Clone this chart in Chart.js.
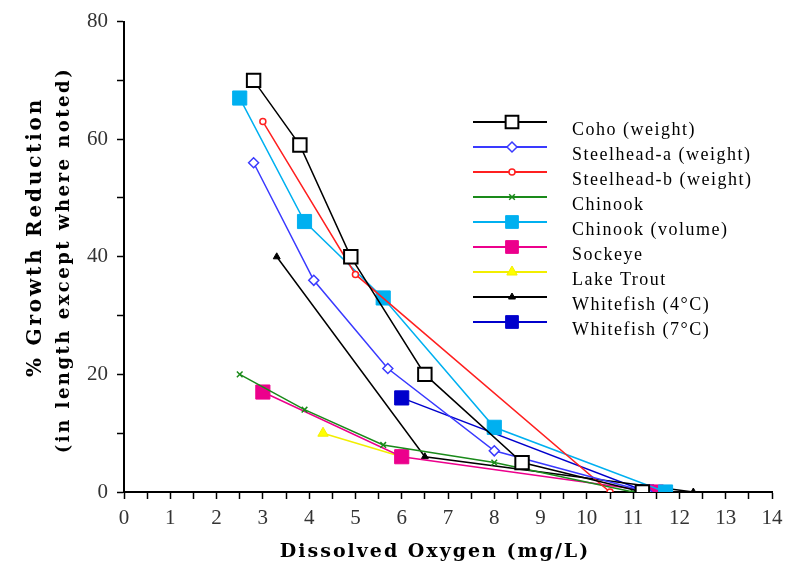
<!DOCTYPE html>
<html>
<head>
<meta charset="utf-8">
<script src="https://cdn.jsdelivr.net/npm/chart.js@4.4.0/dist/chart.umd.min.js"></script>
<style>
  html, body { margin: 0; padding: 0; background: #fff; }
  #wrap { width: 792px; height: 569px; }
</style>
</head>
<body>
<div id="wrap"><canvas id="chart" width="792" height="569"></canvas></div>
<script>
// Series (x = dissolved oxygen mg/L, y = % growth reduction)
const cohoX = [2.8, 3.8, 4.9, 6.5, 8.6, 11.2];
const cohoY = [70, 59, 40, 20, 5, 0];
const steelheadAX = [2.8, 4.1, 5.7, 8.0, 11.3];
const steelheadAY = [56, 36, 21, 7, 0];
const steelheadBX = [3.0, 5.0, 10.5];
const steelheadBY = [63, 37, 0];
const chinookX = [2.5, 3.9, 5.6, 8.0, 11.0];
const chinookY = [20, 14, 8, 5, 0];
const chinookVolX = [2.5, 3.9, 5.6, 8.0, 11.7];
const chinookVolY = [67, 46, 33, 11, 0];
const sockeyeX = [3.0, 6.0, 11.5];
const sockeyeY = [17, 6, 0];
const lakeTroutX = [4.3, 6.0];
const lakeTroutY = [10, 6];
const whitefish4X = [3.3, 6.5, 12.3];
const whitefish4Y = [40, 6, 0];
const whitefish7X = [6.0, 11.3];
const whitefish7Y = [16, 0];

const seriesNames = [
    'Coho (weight)', 'Steelhead-a (weight)', 'Steelhead-b (weight)', 'Chinook',
    'Chinook (volume)', 'Sockeye', 'Lake Trout', 'Whitefish (4\u00B0C)', 'Whitefish (7\u00B0C)'
];
const xTitle = 'Dissolved Oxygen (mg/L)';
const yTitle1 = '% Growth Reduction';
const yTitle2 = '(in length except where noted)';

function pts(xs, ys) {
    return xs.map((x, i) => ({ x: x, y: ys[i] }));
}

// line colour, marker style, marker fill, radius
const styles = [
    { color: '#000000', point: 'rect', fill: '#ffffff', r: 9.5, bw: 2 },
    { color: '#3a3aff', point: 'rectRot', fill: '#ffffff', r: 5, bw: 1.5 },
    { color: '#ff2020', point: 'circle', fill: '#ffffff', r: 3, bw: 1.5 },
    { color: '#1a8a1a', point: 'crossRot', fill: '#1a8a1a', r: 4, bw: 1.5 },
    { color: '#00b0f0', point: 'rect', fill: '#00b0f0', r: 10, bw: 1 },
    { color: '#ec008c', point: 'rect', fill: '#ec008c', r: 10, bw: 1 },
    { color: '#f2ee00', point: 'triangle', fill: '#ffff00', r: 6, bw: 1 },
    { color: '#000000', point: 'triangle', fill: '#000000', r: 4, bw: 1 },
    { color: '#0000cc', point: 'rect', fill: '#0000cc', r: 10, bw: 1 }
];

const seriesData = [
    pts(cohoX, cohoY), pts(steelheadAX, steelheadAY), pts(steelheadBX, steelheadBY),
    pts(chinookX, chinookY), pts(chinookVolX, chinookVolY), pts(sockeyeX, sockeyeY),
    pts(lakeTroutX, lakeTroutY), pts(whitefish4X, whitefish4Y), pts(whitefish7X, whitefish7Y)
];

const datasets = seriesData.map((d, i) => ({
    label: seriesNames[i],
    data: d,
    borderColor: styles[i].color,
    borderWidth: 1.5,
    pointStyle: styles[i].point,
    pointRadius: styles[i].r,
    pointBackgroundColor: styles[i].fill,
    pointBorderColor: styles[i].color,
    pointBorderWidth: styles[i].bw,
    tension: 0,
    fill: false
}));

// Axis titles and the legend box inside the plot
const extras = {
    id: 'extras',
    afterDraw(chart) {
        const ctx = chart.ctx;
        ctx.save();
        ctx.fillStyle = '#000';
        ctx.textBaseline = 'middle';

        ctx.textAlign = 'center';
        ctx.font = 'bold 19px "DejaVu Serif"';
        ctx.letterSpacing = '2px';
        ctx.fillText(xTitle, 435, 552);

        ctx.save();
        ctx.translate(36, 237);
        ctx.rotate(-Math.PI / 2);
        ctx.font = 'bold 20px "DejaVu Serif"';
        ctx.letterSpacing = '2.8px';
        ctx.fillText(yTitle1, 0, 0);
        ctx.restore();

        ctx.save();
        ctx.translate(64, 260);
        ctx.rotate(-Math.PI / 2);
        ctx.font = 'bold 18px "DejaVu Serif"';
        ctx.letterSpacing = '2.5px';
        ctx.fillText(yTitle2, 0, 0);
        ctx.restore();

        // legend
        ctx.textAlign = 'left';
        ctx.font = '18px "Liberation Serif"';
        ctx.letterSpacing = '1.5px';
        chart.data.datasets.forEach((ds, i) => {
            const y = 122 + i * 25;
            ctx.strokeStyle = ds.borderColor;
            ctx.lineWidth = 2;
            ctx.beginPath();
            ctx.moveTo(473, y);
            ctx.lineTo(547, y);
            ctx.stroke();
            ctx.fillStyle = ds.pointBackgroundColor;
            ctx.strokeStyle = ds.pointBorderColor;
            ctx.lineWidth = ds.pointBorderWidth;
            Chart.helpers.drawPoint(ctx, {
                pointStyle: ds.pointStyle,
                radius: Math.min(ds.pointRadius, 9),
                rotation: 0,
                borderWidth: ds.pointBorderWidth
            }, 512, y);
            ctx.fillStyle = '#000';
            ctx.fillText(ds.label, 572, y + 8);
        });
        ctx.restore();
    }
};

new Chart(document.getElementById('chart'), {
    type: 'line',
    data: { datasets: datasets },
    options: {
        responsive: false,
        animation: false,
        layout: { padding: { top: 20, right: 20, left: 0, bottom: 0 } },
        plugins: {
            legend: { display: false },
            tooltip: { enabled: false }
        },
        scales: {
            x: {
                type: 'linear',
                min: 0,
                max: 14,
                afterFit: (s) => { s.height = 77; },
                border: { color: '#000', width: 2 },
                grid: { drawOnChartArea: false, drawTicks: true, tickLength: 7, color: '#000', tickWidth: 1.5 },
                ticks: {
                    stepSize: 0.5,
                    autoSkip: false,
                    maxRotation: 0,
                    padding: 7,
                    color: '#333',
                    font: { family: '"Liberation Serif"', size: 21 },
                    callback: (v) => Number.isInteger(v) ? v : ''
                }
            },
            y: {
                min: 0,
                max: 80,
                afterFit: (s) => { s.width = 124; },
                border: { color: '#000', width: 2 },
                grid: { drawOnChartArea: false, drawTicks: true, tickLength: 7, color: '#000', tickWidth: 1.5 },
                ticks: {
                    stepSize: 10,
                    autoSkip: false,
                    padding: 9,
                    color: '#333',
                    font: { family: '"Liberation Serif"', size: 21 },
                    callback: (v) => v % 20 === 0 ? v : ''
                }
            }
        }
    },
    plugins: [extras]
});
</script>
</body>
</html>
